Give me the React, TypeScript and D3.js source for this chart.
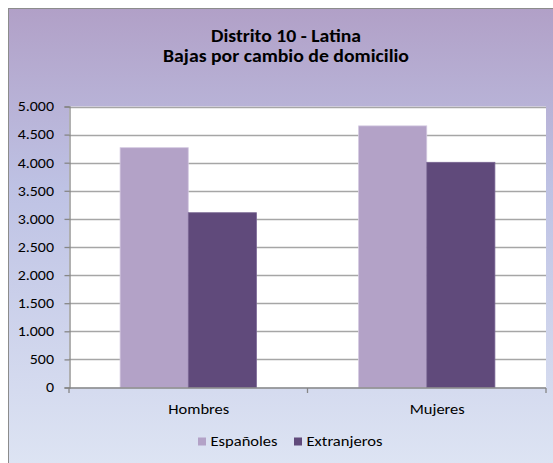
import { useEffect, useRef } from 'react';
import * as d3 from 'd3';

const categories = ['Hombres', 'Mujeres'];
const seriesNames = ['Españoles', 'Extranjeros'];
const espanoles = [4267, 4655];
const extranjeros = [3110, 4007];
const yTicks = [0, 500, 1000, 1500, 2000, 2500, 3000, 3500, 4000, 4500, 5000];
const titleLines = ['Distrito 10 - Latina', 'Bajas por cambio de domicilio'];

const colors = ['#B3A2C7', '#604A7B'];
const edgeColors = ['#D3C8E0', '#7A6694'];
const fontFamily = 'Calibri, Carlito, Lato, sans-serif';

// widths of the text as it is drawn in the original (slightly stretched) picture
const titleWidths = [150, 246];
const categoryWidths = [61, 55];
const legendWidths = [67, 76];

const App = () => {
  const svgRef = useRef<SVGSVGElement | null>(null);

  useEffect(() => {
    if (!svgRef.current) return;
    const svg = d3.select(svgRef.current);
    svg.selectAll('*').remove();

    const width = 553;
    const height = 463;
    const plot = { left: 69, right: 546, top: 106.5, bottom: 387.5 };

    // background gradient
    const defs = svg.append('defs');
    const grad = defs.append('linearGradient')
      .attr('id', 'bg')
      .attr('x1', 0).attr('y1', 0).attr('x2', 0).attr('y2', 1);
    grad.append('stop').attr('offset', '0%').attr('stop-color', '#B1A0C7');
    grad.append('stop').attr('offset', '38%').attr('stop-color', '#BEC2E4');
    grad.append('stop').attr('offset', '100%').attr('stop-color', '#DFE6F4');

    svg.append('rect')
      .attr('x', 8.5).attr('y', 8.5)
      .attr('width', width + 10).attr('height', height + 10)
      .attr('fill', 'url(#bg)')
      .attr('stroke', '#8C8C8C')
      .attr('stroke-width', 1);

    // title
    titleLines.forEach((line, i) => {
      svg.append('text')
        .attr('x', 286)
        .attr('y', 42 + i * 20)
        .attr('text-anchor', 'middle')
        .attr('font-family', fontFamily)
        .attr('font-weight', 'bold')
        .attr('font-size', '17px')
        .attr('fill', '#000')
        .attr('textLength', titleWidths[i])
        .attr('lengthAdjust', 'spacingAndGlyphs')
        .text(line);
    });

    // plot area
    svg.append('rect')
      .attr('x', plot.left).attr('y', plot.top)
      .attr('width', plot.right - plot.left).attr('height', plot.bottom - plot.top)
      .attr('fill', '#fff');

    const y = d3.scaleLinear().domain([0, 5000]).range([plot.bottom, plot.top]);
    const x0 = d3.scaleBand<string>()
      .domain(categories)
      .range([plot.left, plot.right])
      .paddingInner(1.5 / 3.5)
      .paddingOuter(0.75 / 3.5);
    const x1 = d3.scaleBand<string>()
      .domain(seriesNames)
      .range([0, x0.bandwidth()]);

    const fmt = (v: number) => d3.format(',')(v).replace(/,/g, '.');

    // gridlines
    svg.append('g')
      .selectAll('line')
      .data(yTicks.filter((t) => t > 0))
      .join('line')
      .attr('x1', plot.left).attr('x2', plot.right)
      .attr('y1', (d) => Math.round(y(d)) + 0.5)
      .attr('y2', (d) => Math.round(y(d)) + 0.5)
      .attr('stroke', '#A6A6A6')
      .attr('stroke-width', 1.3);

    // bars
    const values = [espanoles, extranjeros];
    categories.forEach((cat, ci) => {
      seriesNames.forEach((s, si) => {
        const v = values[si][ci];
        svg.append('rect')
          .attr('x', (x0(cat) ?? 0) + (x1(s) ?? 0))
          .attr('y', y(v))
          .attr('width', x1.bandwidth())
          .attr('height', y(0) - y(v))
          .attr('fill', colors[si])
          .attr('stroke', edgeColors[si])
          .attr('stroke-width', 0.8);
      });
    });

    // y axis
    const yAxis = d3.axisLeft(y)
      .tickValues(yTicks)
      .tickSize(5)
      .tickPadding(10.5)
      .tickFormat((d) => fmt(d as number));
    const yg = svg.append('g')
      .attr('transform', `translate(${plot.left + 0.5},0)`)
      .call(yAxis);
    yg.select('.domain').attr('stroke', '#868686').attr('stroke-width', 1.3);
    yg.selectAll('.tick line').attr('stroke', '#868686').attr('stroke-width', 1.3);
    yg.selectAll<SVGTextElement, unknown>('.tick text')
      .attr('font-family', fontFamily)
      .attr('font-size', '13.5px')
      .attr('fill', '#000')
      .each(function () {
        // widen a little, like the stretched labels in the original
        const len = this.getComputedTextLength();
        d3.select(this)
          .attr('textLength', len * 1.18)
          .attr('lengthAdjust', 'spacingAndGlyphs');
      });

    // x axis
    const xg = svg.append('g')
      .attr('transform', `translate(0,${plot.bottom + 0.5})`);
    xg.append('line')
      .attr('x1', plot.left).attr('x2', plot.right)
      .attr('stroke', '#868686').attr('stroke-width', 1.5);
    const boundaries = [plot.left, ...categories.slice(1).map((c) => (x0(c) ?? 0) - x0.step() * (1.5 / 3.5) / 2), plot.right];
    xg.selectAll('line.tk')
      .data(boundaries)
      .join('line')
      .attr('class', 'tk')
      .attr('x1', (d) => d).attr('x2', (d) => d)
      .attr('y1', 0).attr('y2', 5)
      .attr('stroke', '#868686').attr('stroke-width', 1.3);
    xg.selectAll('text')
      .data(categories)
      .join('text')
      .attr('x', (d) => (x0(d) ?? 0) + x0.bandwidth() / 2 + 10.5)
      .attr('y', 26)
      .attr('text-anchor', 'middle')
      .attr('font-family', fontFamily)
      .attr('font-size', '15px')
      .attr('fill', '#000')
      .attr('textLength', (_d, i) => categoryWidths[i])
      .attr('lengthAdjust', 'spacingAndGlyphs')
      .text((d) => d);

    // legend
    const legendX = [198, 294];
    const legend = svg.append('g');
    seriesNames.forEach((s, i) => {
      legend.append('rect')
        .attr('x', legendX[i]).attr('y', 437.5)
        .attr('width', 8).attr('height', 8)
        .attr('fill', colors[i]);
      legend.append('text')
        .attr('x', legendX[i] + 12.5)
        .attr('y', 446)
        .attr('font-family', fontFamily)
        .attr('font-size', '14.5px')
        .attr('fill', '#000')
        .attr('textLength', legendWidths[i])
        .attr('lengthAdjust', 'spacingAndGlyphs')
        .text(s);
    });
  }, []);

  return (
    <svg
      ref={svgRef}
      width={553}
      height={463}
      style={{ position: 'absolute', left: 0, top: 0, background: '#fff' }}
    />
  );
};

export default App;
